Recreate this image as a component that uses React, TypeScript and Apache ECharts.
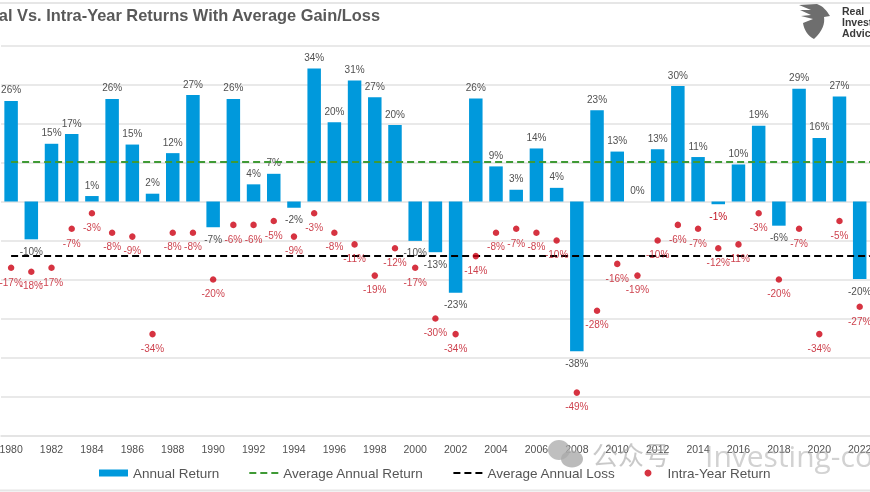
import React, { useEffect, useRef } from "react";
import * as echarts from "echarts";

const years = ["1980","1981","1982","1983","1984","1985","1986","1987","1988","1989","1990","1991","1992","1993","1994","1995","1996","1997","1998","1999","2000","2001","2002","2003","2004","2005","2006","2007","2008","2009","2010","2011","2012","2013","2014","2015","2016","2017","2018","2019","2020","2021","2022","2023"];
const annualReturn = [25.8,-9.7,14.8,17.3,1.4,26.3,14.6,2,12.4,27.3,-6.6,26.3,4.4,7.1,-1.6,34.1,20.3,31,26.7,19.6,-10.1,-13,-23.4,26.4,9,3,13.6,3.5,-38.4,23.4,12.8,0,13.4,29.6,11.4,-0.7,9.5,19.4,-6.2,28.9,16.3,26.9,-19.9,24];
const intraYear = [-17,-18,-17,-7,-3,-8,-9,-34,-8,-8,-20,-6,-6,-5,-9,-3,-8,-11,-19,-12,-17,-30,-34,-14,-8,-7,-8,-10,-49,-28,-16,-19,-10,-6,-7,-12,-11,-3,-20,-7,-34,-5,-27,-10];
const redLabelYears = ["2015"];
const averageGain = 10.1;
const averageLoss = -14;

const FONT = '"Liberation Sans", Arial, sans-serif';
const pct = (v: number) => `${v.toFixed(0)}%`;

echarts.graphic.registerShape("rialogo", echarts.graphic.extendPath("M2 2 L20 1 C26 3 30 8 33 13 L27 14 C28 20 26 28 17 36 C11 33 7 27 6 20 L16 16 L4 13 L14 12 L3 7 L14 7 Z", {}));

export default function App() {
  const ref = useRef<HTMLDivElement>(null);
  useEffect(() => {
    const chart = echarts.init(ref.current!, undefined, { renderer: "svg" });
    chart.setOption({
      animation: false,
      backgroundColor: "#ffffff",
      textStyle: { fontFamily: FONT },
      grid: { left: 1, top: 45.5, width: 889, height: 390, outerBoundsMode: "none" },
      legend: {
        left: 99,
        top: 466,
        padding: 0,
        itemWidth: 29,
        itemHeight: 7,
        itemGap: 29,
        textStyle: { color: "#555555", fontSize: 13.5, fontFamily: FONT },
        data: [
          { name: "Annual Return", icon: "rect" },
          { name: "Average Annual Return", itemStyle: { color: "transparent", opacity: 0 } },
          { name: "Average Annual Loss", itemStyle: { color: "transparent", opacity: 0 } },
          { name: "Intra-Year Return" },
        ],
      },
      xAxis: {
        type: "category",
        data: years,
        axisLine: { onZero: false, lineStyle: { color: "#e2e2e2", width: 1.5 } },
        axisTick: { show: false },
        axisLabel: { interval: 1, color: "#505050", fontSize: 10.5, margin: 8, fontFamily: FONT },
      },
      yAxis: {
        type: "value",
        min: -60,
        max: 40,
        interval: 10,
        axisLabel: { show: false },
        axisLine: { show: false },
        axisTick: { show: false },
        splitLine: { lineStyle: { color: "#e2e2e2", width: 1.5 } },
      },
      series: [
        {
          name: "Annual Return",
          type: "bar",
          barWidth: 13.5,
          itemStyle: { color: "#0099DC" },
          data: annualReturn.map((v, i) => ({
            value: v,
            label: {
              show: true,
              position: v < 0 ? "bottom" : "top",
              distance: v < 0 ? 7 : 6,
              formatter: pct(v),
              color: redLabelYears.includes(years[i]) ? "#C0101F" : "#505050",
              fontSize: 10,
              fontFamily: FONT,
            },
          })),
        },
        {
          name: "Average Annual Return",
          type: "line",
          symbol: "none",
          z: 3,
          lineStyle: { color: "#3F9A35", width: 2, type: [7, 4] },
          itemStyle: { color: "#3F9A35" },
          data: years.map(() => averageGain),
        },
        {
          name: "Average Annual Loss",
          type: "line",
          symbol: "none",
          z: 3,
          lineStyle: { color: "#000000", width: 2, type: [7, 4] },
          itemStyle: { color: "#000000" },
          data: years.map(() => averageLoss),
        },
        {
          name: "Intra-Year Return",
          type: "scatter",
          symbol: "circle",
          symbolSize: 6.5,
          z: 4,
          itemStyle: { color: "#CC0011" },
          label: { show: true, position: "bottom", distance: 6, formatter: (p: any) => pct(p.value), color: "#C0101F", fontSize: 10, fontFamily: FONT },
          data: intraYear,
        },
      ],
      graphic: [
        { type: "line", silent: true, shape: { x1: 0, y1: 3, x2: 870, y2: 3 }, style: { stroke: "#e6e6e6", lineWidth: 2 } },
        { type: "line", silent: true, shape: { x1: 0, y1: 490.5, x2: 870, y2: 490.5 }, style: { stroke: "#e6e6e6", lineWidth: 2 } },
        { type: "text", x: 380, y: 15, style: { text: "Annual Vs. Intra-Year Returns With Average Gain/Loss", align: "right", verticalAlign: "middle", fill: "#595959", font: `bold 16.4px ${FONT}` } },
        { type: "rialogo", x: 797, y: 3, style: { fill: "#6e6e6e" } },
        { type: "text", x: 842, y: 11, style: { text: "Real", verticalAlign: "middle", fill: "#3a3a3a", font: `bold 10.5px ${FONT}` } },
        { type: "text", x: 842, y: 22, style: { text: "Investment", verticalAlign: "middle", fill: "#3a3a3a", font: `bold 10.5px ${FONT}` } },
        { type: "text", x: 842, y: 33, style: { text: "Advice", verticalAlign: "middle", fill: "#3a3a3a", font: `bold 10.5px ${FONT}` } },
        { type: "ellipse", z: 10, shape: { cx: 559, cy: 450, rx: 11, ry: 10 }, style: { fill: "rgba(170,170,170,0.75)" } },
        { type: "ellipse", z: 10, shape: { cx: 572, cy: 459, rx: 11, ry: 8.5 }, style: { fill: "rgba(170,170,170,0.8)" } },
        { type: "text", z: 10, x: 592, y: 453, style: { text: "公众号", verticalAlign: "middle", fill: "rgba(165,165,165,0.6)", font: `26px "Noto Sans CJK SC"` } },
        { type: "text", z: 10, x: 705, y: 455, style: { text: "Investing-co", verticalAlign: "middle", fill: "rgba(165,165,165,0.5)", font: `30px "Open Sans"` } },
      ],
    });
    return () => chart.dispose();
  }, []);
  return <div ref={ref} style={{ position: "fixed", left: 0, top: 0, width: 870, height: 492, filter: "blur(0.3px)" }} />;
}
